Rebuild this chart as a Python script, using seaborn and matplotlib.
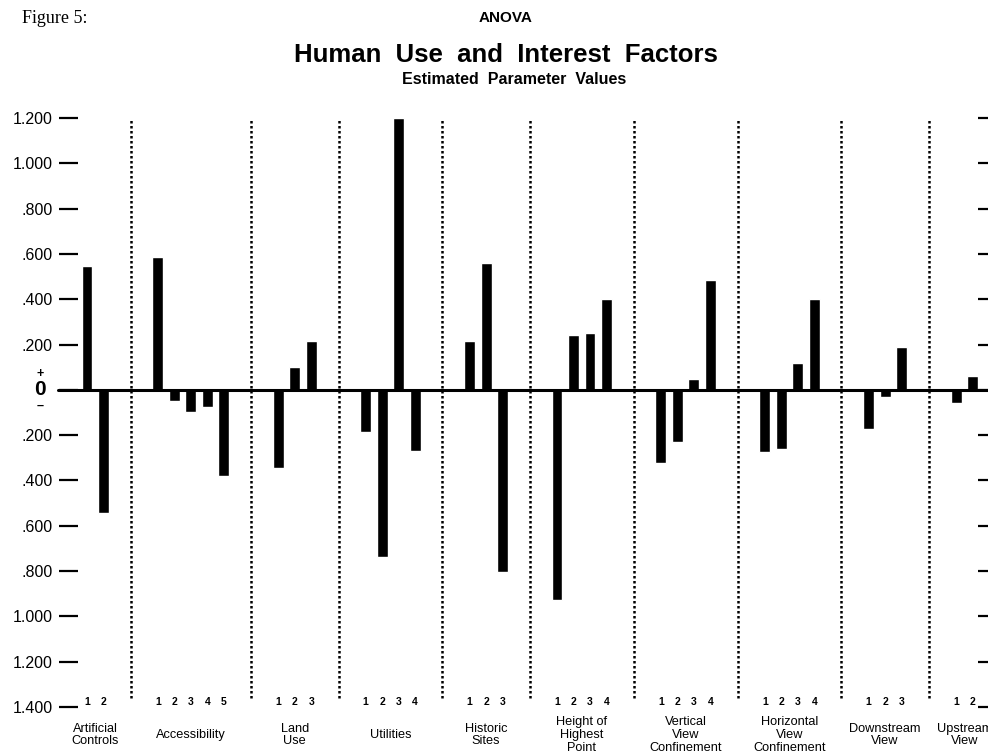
import numpy as np
import pandas as pd
import matplotlib.pyplot as plt
import seaborn as sns

# Factor names and estimated parameter values
groups = ['Artificial\nControls', 'Accessibility', 'Land\nUse', 'Utilities',
          'Historic\nSites', 'Height of\nHighest\nPoint', 'Vertical\nView\nConfinement',
          'Horizontal\nView\nConfinement', 'Downstream\nView', 'Upstream\nView']
artificial = [0.547, -0.545]
accessibility = [0.588, -0.051, -0.100, -0.076, -0.382]
land_use = [-0.343, 0.103, 0.216]
utilities = [-0.186, -0.740, 1.200, -0.268]
historic = [0.215, 0.558, -0.805]
height = [-0.927, 0.244, 0.252, 0.403]
vertical = [-0.324, -0.229, 0.050, 0.486]
horizontal = [-0.273, -0.263, 0.120, 0.403]
downstream = [-0.175, -0.030, 0.188]
upstream = [-0.060, 0.063]
values = [artificial, accessibility, land_use, utilities, historic,
          height, vertical, horizontal, downstream, upstream]

ytick_values = [1.2, 1.0, 0.8, 0.6, 0.4, 0.2, 0.0, -0.2, -0.4, -0.6, -0.8, -1.0, -1.2, -1.4]
ytick_labels = ['1.200', '1.000', '.800', '.600', '.400', '.200', '',
                '.200', '.400', '.600', '.800', '1.000', '1.200', '1.400']

# build long table, groups separated by a gap on a numeric axis
gap = 3.3
rows = []
start = 0.0
for name, vals in zip(groups, values):
    for k, v in enumerate(vals):
        rows.append({'group': name, 'level': k + 1, 'value': v, 'pos': round(start + k, 2)})
    start = round(start + len(vals) - 1 + gap, 2)
df = pd.DataFrame(rows)

sns.set_style('white')
plt.rcParams['font.family'] = ['Liberation Sans', 'DejaVu Sans']
plt.rcParams['text.color'] = 'black'
plt.rcParams['ytick.color'] = 'black'
plt.rcParams['ytick.labelcolor'] = 'black'

fig = plt.figure(figsize=(9.88, 7.53), dpi=100)
ax = fig.add_axes([0.0789, 0.0611, 0.911, 0.7822])

sns.barplot(data=df, x='pos', y='value', native_scale=True, orient='x',
            width=0.66, color='black', saturation=1, errorbar=None, ax=ax)

ax.set_xlim(df['pos'].min() - 0.55, df['pos'].max() + 0.33)
ax.set_ylim(-1.4, 1.2)
ax.set_xticks([])
ax.set_xlabel('')
ax.set_ylabel('')
for s in ax.spines.values():
    s.set_visible(False)

ax.set_yticks(ytick_values)
ax.set_yticklabels(ytick_labels, fontsize=11.5)
ax.tick_params(axis='y', left=True, right=True, labelright=False, direction='out',
               length=14, width=1.6, pad=4, colors='black')

# zero baseline
ax.axhline(0, xmin=-0.022, xmax=1.02, color='black', lw=2.2, clip_on=False)

# zero label with +/- signs
yt = ax.get_yaxis_transform()
ax.text(-0.042, 0, '0', transform=yt, ha='center', va='center', fontsize=15, fontweight='bold')
ax.annotate('+', xy=(-0.042, 0), xycoords=yt, xytext=(0, 11.5), textcoords='offset points',
            ha='center', va='center', fontsize=9, fontweight='bold')
ax.annotate('\u2013', xy=(-0.042, 0), xycoords=yt, xytext=(0, -11.5), textcoords='offset points',
            ha='center', va='center', fontsize=9, fontweight='bold')

# dotted separators between groups, level numbers and group names
xt = ax.get_xaxis_transform()
grp = df.groupby('group', sort=False)['pos']
firsts = grp.min().values
lasts = grp.max().values
centers = grp.mean().values
for i in range(len(groups) - 1):
    ax.axvline((lasts[i] + firsts[i + 1]) / 2, ymin=0.015, ymax=1.0, color='black',
               ls=(0, (1, 1)), lw=1.8)
for _, r in df.iterrows():
    ax.text(r['pos'], 0.008, str(r['level']), transform=xt, ha='center', va='center',
            fontsize=7.5, fontweight='bold', clip_on=False)
for name, c in zip(groups, centers):
    ax.text(c, -0.0475, name, transform=xt, ha='center', va='center', fontsize=9.2,
            linespacing=1.1, clip_on=False)

# titles
fig.text(0.022, 0.976, 'Figure 5:', family='Liberation Serif', fontsize=13, ha='left', va='center')
fig.text(0.512, 0.976, 'ANOVA', fontsize=11, fontweight='bold', ha='center', va='center')
fig.text(0.512, 0.927, 'Human  Use  and  Interest  Factors', fontsize=18.5, fontweight='bold',
         ha='center', va='center')
fig.text(0.52, 0.894, 'Estimated  Parameter  Values', fontsize=11.5, fontweight='bold',
         ha='center', va='center')

fig.savefig('out.png', dpi=100)
